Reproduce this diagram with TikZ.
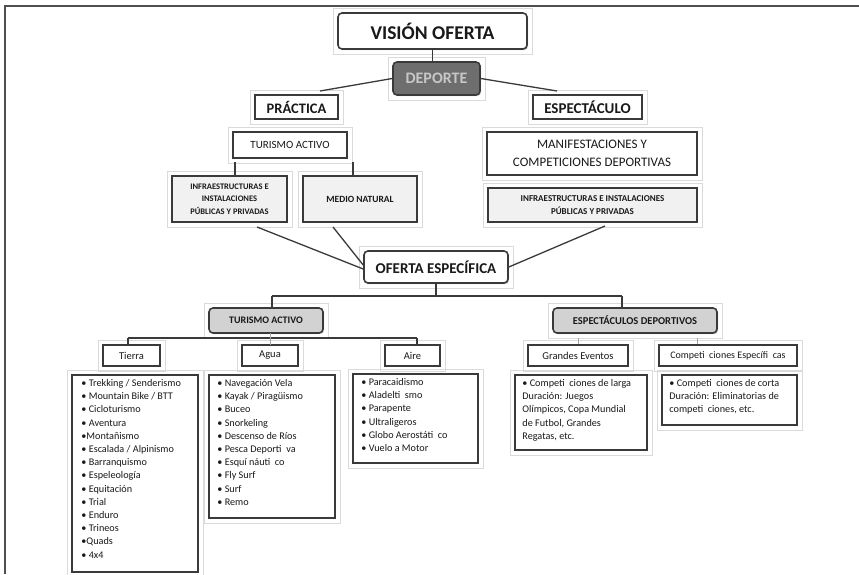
\documentclass[tikz,border=0pt]{standalone}
\usepackage{fontspec}
\setmainfont{Carlito}
\usetikzlibrary{calc,fit,shadows}
\definecolor{ln}{HTML}{3A3A3A}
\definecolor{darkfill}{HTML}{6E6E6E}
\definecolor{midfill}{HTML}{D2D2D2}
\definecolor{lightfill}{HTML}{F1F1F1}
\definecolor{ghostc}{HTML}{DADADA}
\tikzset{
  box/.style={draw=ln, line width=1.6pt, fill=white, inner sep=0pt, align=center, text=black!90},
  rbox/.style={box, rounded corners=4pt},
  shad/.style={drop shadow={shadow xshift=1.2pt, shadow yshift=-1.2pt, fill=gray!60, opacity=0.6}},
  ghost/.style={draw=ghostc, line width=0.6pt, inner sep=4pt},
  conn/.style={draw=ln, line width=1.3pt},
  tick/.style={draw=gray!70, line width=0.8pt},
  listtext/.style={inner sep=0pt, align=left, anchor=north west, text=black!90,
    font=\fontsize{10.2}{13.2}\selectfont},
  small/.style={font=\fontsize{10.5}{12}\selectfont},
  fr/.style={draw=ln!90, line width=1.4pt}
}
\begin{document}
\begin{tikzpicture}[x=1pt,y=-1pt]
\useasboundingbox (0,0) rectangle (859,574);
% outer frame lines
\coordinate (f0) at (5,6);
\coordinate (f1) at (859,6);
\coordinate (f2) at (5,574);
\draw[fr] (f1) -- (f0) -- (f2);

% top level
\node[rbox, shad, minimum width=189, minimum height=36, font=\fontsize{19.5}{21}\selectfont\bfseries] (visio) at (432.5,31) {VISIÓN OFERTA};
\node[rbox, shad, fill=darkfill, draw=ln, minimum width=87, minimum height=33, text=black!22, font=\fontsize{16}{18}\selectfont\bfseries] (deporte) at (436.5,78.5) {DEPORTE};
\node[box, minimum width=83, minimum height=24, font=\fontsize{14.5}{16}\selectfont\bfseries] (practica) at (296.5,107) {PRÁCTICA};
\node[box, minimum width=109, minimum height=24, font=\fontsize{15}{17}\selectfont\bfseries] (espect) at (587.5,107) {ESPECTÁCULO};

\node[box, minimum width=114, minimum height=26, font=\fontsize{11}{13}\selectfont] (turtop) at (290,145) {TURISMO ACTIVO};
\node[box, fill=lightfill, minimum width=115, minimum height=46, font=\fontsize{8.5}{12.5}\selectfont\bfseries] (infraL) at (229.5,199) {INFRAESTRUCTURAS E\\INSTALACIONES\\PÚBLICAS Y PRIVADAS};
\node[box, fill=lightfill, minimum width=114, minimum height=46, font=\fontsize{9.5}{12.5}\selectfont\bfseries] (medio) at (360,199) {MEDIO NATURAL};
\node[box, minimum width=210, minimum height=43, font=\fontsize{13}{18}\selectfont] (manif) at (592,153.5) {MANIFESTACIONES Y\\COMPETICIONES DEPORTIVAS};
\node[box, fill=lightfill, minimum width=209, minimum height=34, font=\fontsize{9}{13}\selectfont\bfseries] (infraR) at (592.5,205) {INFRAESTRUCTURAS E INSTALACIONES\\PÚBLICAS Y PRIVADAS};

\node[rbox, shad, minimum width=144, minimum height=32, font=\fontsize{15}{17}\selectfont\bfseries] (oferta) at (436,267) {OFERTA ESPECÍFICA};

\node[rbox, shad, fill=midfill, minimum width=114, minimum height=25, font=\fontsize{10}{11}\selectfont\bfseries] (tur2) at (266,320.5) {TURISMO ACTIVO};
\node[rbox, shad, fill=midfill, minimum width=164, minimum height=25, font=\fontsize{10.5}{11}\selectfont\bfseries] (espdep) at (635,320.5) {ESPECTÁCULOS DEPORTIVOS};

% third level headers
\node[box, small, minimum width=57, minimum height=21] (tierra) at (131.5,355.5) {Tierra};
\node[box, small, minimum width=56, minimum height=21] (agua) at (270,355.5) {Agua};
\node[box, small, minimum width=55, minimum height=21] (aire) at (412.5,355.5) {Aire};
\node[box, small, minimum width=100, minimum height=21] (grandes) at (578,355.5) {Grandes Eventos};
\node[box, minimum width=138, minimum height=21, font=\fontsize{10}{12}\selectfont] (compe) at (728,355.5) {Competi~ ciones Específi~ cas};

% list boxes
\node[box, shad, minimum width=126, minimum height=197] (tierraL) at (135,473.5) {};
\node[box, shad, minimum width=126, minimum height=143] (aguaL) at (272,446.5) {};
\node[box, shad, minimum width=125, minimum height=89] (aireL) at (415.5,418.5) {};
\node[box, shad, minimum width=132, minimum height=75] (grandesL) at (581,412.5) {};
\node[box, shad, minimum width=135, minimum height=50] (compeL) at (729.5,400) {};

\node[listtext] (tierraT) at ($(tierraL.north west)+(10,5)$) {• Trekking / Senderismo\\• Mountain Bike / BTT\\• Cicloturismo\\• Aventura\\•Montañismo\\• Escalada / Alpinismo\\• Barranquismo\\• Espeleología\\• Equitación\\• Trial\\• Enduro\\• Trineos\\•Quads\\• 4x4};
\node[listtext] (aguaT) at ($(aguaL.north west)+(9,5)$) {• Navegación Vela\\• Kayak / Piragüismo\\• Buceo\\• Snorkeling\\• Descenso de Ríos\\• Pesca Deporti~ va\\• Esquí náuti~ co\\• Fly Surf\\• Surf\\• Remo};
\node[listtext] (aireT) at ($(aireL.north west)+(9,5)$) {• Paracaidismo\\• Aladelti~ smo\\• Parapente\\• Ultraligeros\\• Globo Aerostáti~ co\\• Vuelo a Motor};
\node[listtext] (grandesT) at ($(grandesL.north west)+(8,5)$) {• Competi~ ciones de larga\\Duración: Juegos\\Olímpicos, Copa Mundial\\de Futbol, Grandes\\Regatas, etc.};
\node[listtext] (compeT) at ($(compeL.north west)+(8,5)$) {• Competi~ ciones de corta\\Duración: Eliminatorias de\\competi~ ciones, etc.};

% ghost frames
\foreach \n in {visio,deporte,practica,espect,turtop,infraL,medio,manif,infraR,oferta,tur2,espdep,tierra,agua,aire,grandes,compe,tierraL,aguaL,aireL,grandesL,compeL}
  \node[ghost, fit=(\n)] (g\n) {};

% connectors
\coordinate (pL) at (320,91);
\coordinate (pR) at (557,91);
\draw[conn] (visio.south) -- (visio.south |- deporte.north);
\draw[conn] (deporte.west) -- (pL);
\draw[conn] (deporte.east) -- (pR);

\coordinate (t1) at (235,162);
\coordinate (t2) at (353,162);
\draw[conn] (t1) -- (t1 |- infraL.north);
\draw[conn] (t2) -- (t2 |- medio.north);

\coordinate (a1) at (257,227);
\coordinate (a2) at (333,227);
\coordinate (a3) at (605,226);
\draw[conn] (a1) -- ($(oferta.west)+(0,2)$);
\draw[conn] (a2) -- ($(oferta.west)+(0,-2)$);
\draw[conn] (a3) -- (oferta.east);

\coordinate (jL) at (272,296);
\coordinate (jR) at (622,296);
\draw[conn] (oferta.south) -- (oferta.south |- jL);
\draw[conn] (jL) -- (jR);
\draw[conn] (jL) -- (jL |- tur2.north);
\draw[conn] (jR) -- (jR |- espdep.north);

\coordinate (kL) at (128,338);
\coordinate (kR) at (417,338);
\draw[conn] (kL) -- (kR);
\draw[conn] (kL) -- (kL |- tierra.north);
\draw[conn] (kR) -- (kR |- aire.north);
\draw[tick] (270,333) -- (270,345);

\coordinate (e1) at (578,338);
\coordinate (e2) at (697,338);
\draw[tick] (e1) -- (e1 |- grandes.north);
\draw[tick] (e2) -- (e2 |- compe.north);
\end{tikzpicture}
\end{document}
